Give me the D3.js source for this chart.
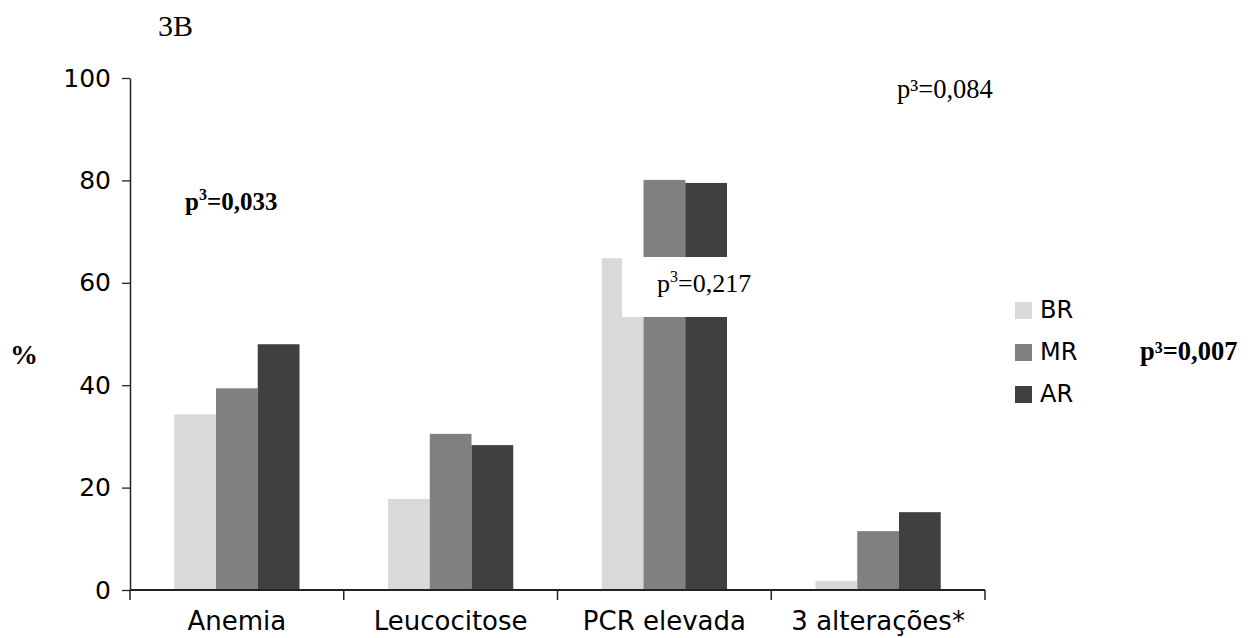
<!DOCTYPE html>
<html>
<head>
<meta charset="utf-8">
<script src="https://cdn.jsdelivr.net/npm/d3@7"></script>
<style>
  html, body { margin: 0; padding: 0; background: #fff; }
  .tick text { font-family: "DejaVu Sans", sans-serif; }
</style>
</head>
<body>
<div id="chart"></div>
<script>
// data
const categories = ['Anemia', 'Leucocitose', 'PCR elevada', '3 alterações*'];
const series = ['BR', 'MR', 'AR'];
const colors = ['#d9d9d9', '#808080', '#404040'];
const valuesBR = [34.3, 17.8, 64.8, 1.8];
const valuesMR = [39.4, 30.5, 80.1, 11.5];
const valuesAR = [48.0, 28.3, 79.5, 15.2];
const yTicks = [0, 20, 40, 60, 80, 100];

const width = 1253, height = 638;

const svg = d3.select('#chart').append('svg')
  .attr('width', width)
  .attr('height', height);

const x0 = d3.scaleBand().domain(categories).range([130, 985]).padding(0);
const x1 = d3.scaleBand().domain(series).range([0, x0.bandwidth()]).paddingInner(0).paddingOuter(1.06);
const y = d3.scaleLinear().domain([0, 100]).range([590, 78]);
const color = d3.scaleOrdinal().domain(series).range(colors);

const rows = categories.map((c, i) => ({
  cat: c,
  vals: [
    { key: 'BR', v: valuesBR[i] },
    { key: 'MR', v: valuesMR[i] },
    { key: 'AR', v: valuesAR[i] }
  ]
}));

// bars
const groups = svg.append('g').selectAll('g')
  .data(rows)
  .enter().append('g')
  .attr('transform', d => `translate(${x0(d.cat)},0)`);

groups.selectAll('rect')
  .data(d => d.vals)
  .enter().append('rect')
  .attr('x', d => x1(d.key))
  .attr('y', d => y(d.v))
  .attr('width', x1.bandwidth())
  .attr('height', d => y(0) - y(d.v))
  .attr('fill', d => color(d.key));

// y axis
const yAxis = svg.append('g')
  .attr('transform', 'translate(130,0)')
  .call(d3.axisLeft(y).tickValues(yTicks).tickSize(8).tickSizeOuter(0).tickPadding(11));
yAxis.select('.domain').attr('stroke', '#222').attr('stroke-width', 1.5);
yAxis.selectAll('.tick line').attr('stroke', '#222').attr('stroke-width', 1.3);
yAxis.selectAll('.tick text')
  .attr('font-size', 25)
  .attr('fill', '#000');

// x axis: line with ticks at the group borders
const xAxis = svg.append('g');
xAxis.append('line')
  .attr('x1', x0.range()[0]).attr('x2', x0.range()[1])
  .attr('y1', y(0)).attr('y2', y(0))
  .attr('stroke', '#222').attr('stroke-width', 2);
const borders = categories.map(c => x0(c)).concat([x0.range()[1]]);
xAxis.selectAll('.xt')
  .data(borders)
  .enter().append('line')
  .attr('class', 'xt')
  .attr('x1', d => d).attr('x2', d => d)
  .attr('y1', y(0)).attr('y2', y(0) + 10)
  .attr('stroke', '#222').attr('stroke-width', 1.5);
xAxis.selectAll('.xl')
  .data(categories)
  .enter().append('text')
  .attr('class', 'xl')
  .attr('x', d => x0(d) + x0.bandwidth() / 2)
  .attr('y', 630)
  .attr('text-anchor', 'middle')
  .style('font-family', '"DejaVu Sans", sans-serif')
  .style('font-size', '26px')
  .text(d => d);

// white box behind the PCR p-value (as in the source figure)
svg.append('rect')
  .attr('x', 622).attr('y', 257)
  .attr('width', 140).attr('height', 60)
  .attr('fill', '#fff');

// legend
const legend = svg.append('g').selectAll('g')
  .data(series)
  .enter().append('g')
  .attr('transform', (d, i) => `translate(1015,${302 + i * 42})`);
legend.append('rect')
  .attr('width', 17).attr('height', 17)
  .attr('fill', d => color(d));
legend.append('text')
  .attr('x', 25).attr('y', 16)
  .style('font-family', '"DejaVu Sans", sans-serif')
  .style('font-size', '24px')
  .text(d => d);

// serif annotations
const serif = '"Liberation Serif", "Times New Roman", serif';
function pText(xp, yp, val, bold, supSmall, size) {
  const t = svg.append('text')
    .attr('x', xp).attr('y', yp)
    .style('font-family', serif)
    .style('font-size', size + 'px')
    .style('font-weight', bold ? 'bold' : 'normal');
  t.append('tspan').text('p');
  if (supSmall) {
    t.append('tspan').attr('dy', -10).style('font-size', '16px').text('3');
    t.append('tspan').attr('dy', 10).text('=' + val);
  } else {
    t.append('tspan').text('³=' + val);
  }
}

svg.append('text')
  .attr('x', 158).attr('y', 36)
  .style('font-family', serif)
  .style('font-size', '30px')
  .text('3B');

svg.append('text')
  .attr('x', 10).attr('y', 364)
  .style('font-family', serif)
  .style('font-size', '28px')
  .style('font-weight', 'bold')
  .text('%');

pText(185, 210, '0,033', true, true, 25);
pText(657, 292, '0,217', false, true, 26);
pText(897, 98, '0,084', false, false, 26.5);
pText(1140, 360, '0,007', true, false, 26.5);
</script>
</body>
</html>
